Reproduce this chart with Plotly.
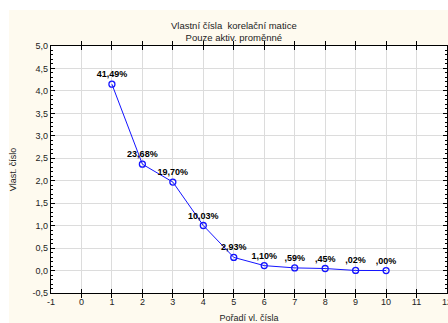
import plotly.graph_objects as go

# Eigenvalues of the correlation matrix (10 active variables)
n_vars = 10
order = [1, 2, 3, 4, 5, 6, 7, 8, 9, 10]
pct_explained = [41.49, 23.68, 19.70, 10.03, 2.93, 1.10, 0.59, 0.45, 0.02, 0.00]
eigenvalues = [p / 100 * n_vars for p in pct_explained]

x_ticks = [-1, 0, 1, 2, 3, 4, 5, 6, 7, 8, 9, 10, 11, 12]
y_ticks = [-0.5, 0.0, 0.5, 1.0, 1.5, 2.0, 2.5, 3.0, 3.5, 4.0, 4.5, 5.0]


def pct_label(p):
    s = f"{p:.2f}".replace(".", ",")
    if s.startswith("0,"):
        s = s[1:]
    return s + "%"


def num_label(v):
    return f"{v:.1f}".replace(".", ",")


labels = [pct_label(p) for p in pct_explained]

FONT = "Liberation Sans, Arial, sans-serif"
BLUE = "#1414ff"

fig = go.Figure()
fig.add_trace(go.Scatter(
    x=order,
    y=eigenvalues,
    mode="lines+markers+text",
    line=dict(color=BLUE, width=1),
    marker=dict(symbol="circle-open", size=6, color=BLUE, line=dict(width=1.3, color=BLUE)),
    text=labels,
    textposition="top center",
    textfont=dict(family=FONT, size=9, color="#000000", weight="bold"),
    cliponaxis=False,
    showlegend=False,
))
# invisible copy on the right-hand axis so its minor ticks get drawn
fig.add_trace(go.Scatter(
    x=order, y=eigenvalues, yaxis="y2", mode="markers",
    marker=dict(opacity=0), hoverinfo="skip", showlegend=False,
))

axis_common = dict(
    showline=True,
    linecolor="#000000",
    linewidth=1.3,
    ticks="inside",
    ticklen=4,
    tickwidth=1,
    tickcolor="#000000",
    zeroline=False,
    automargin=False,
    tickfont=dict(family=FONT, size=9, color="#222222"),
)

fig.update_layout(
    xaxis=dict(
        range=[-1, 12],
        tickvals=x_ticks,
        ticktext=[str(v) for v in x_ticks],
        mirror="allticks",
        showgrid=True, gridcolor="#dcdcdc", gridwidth=1,
        ticklabeloverflow="allow",
        title=dict(text="Pořadí vl. čísla", font=dict(family=FONT, size=9, color="#222222"), standoff=17),
        **axis_common,
    ),
    yaxis=dict(
        range=[-0.5, 5.0],
        tickvals=y_ticks,
        ticktext=[num_label(v) for v in y_ticks],
        mirror=True,
        showgrid=True, gridcolor="#dcdcdc", gridwidth=1,
        minor=dict(ticks="inside", dtick=0.1, ticklen=2, tickcolor="#000000", showgrid=False),
        title=dict(text="Vlast. číslo", font=dict(family=FONT, size=9, color="#222222"), standoff=14),
        **axis_common,
    ),
    yaxis2=dict(
        overlaying="y", side="right",
        range=[-0.5, 5.0],
        tickvals=y_ticks,
        showticklabels=False,
        showgrid=False,
        minor=dict(ticks="inside", dtick=0.1, ticklen=2, tickcolor="#000000", showgrid=False),
        **axis_common,
    ),
)

fig.update_layout(
    width=448,
    height=323,
    margin=dict(l=51, r=1, t=46, b=30),
    paper_bgcolor="#fefaef",
    plot_bgcolor="#ffffff",
    font=dict(family=FONT, size=9, color="#222222"),
    annotations=[
        dict(text="Vlastní čísla  korelační matice<br>Pouze aktiv. proměnné",
             xref="paper", yref="paper", x=0.462, y=1.006,
             xanchor="center", yanchor="bottom", showarrow=False,
             font=dict(family=FONT, size=9.5, color="#222222")),
    ],
    shapes=[
        # white frame strips around the cream panel
        dict(type="rect", xref="paper", yref="paper", x0=-0.2, x1=-0.1061, y0=-0.2, y1=1.3,
             fillcolor="#ffffff", line=dict(width=0), layer="above"),
        dict(type="rect", xref="paper", yref="paper", x0=-0.2, x1=1.2, y0=1.1457, y1=1.3,
             fillcolor="#ffffff", line=dict(width=0), layer="above"),
    ],
)

fig.write_html("out.html")
